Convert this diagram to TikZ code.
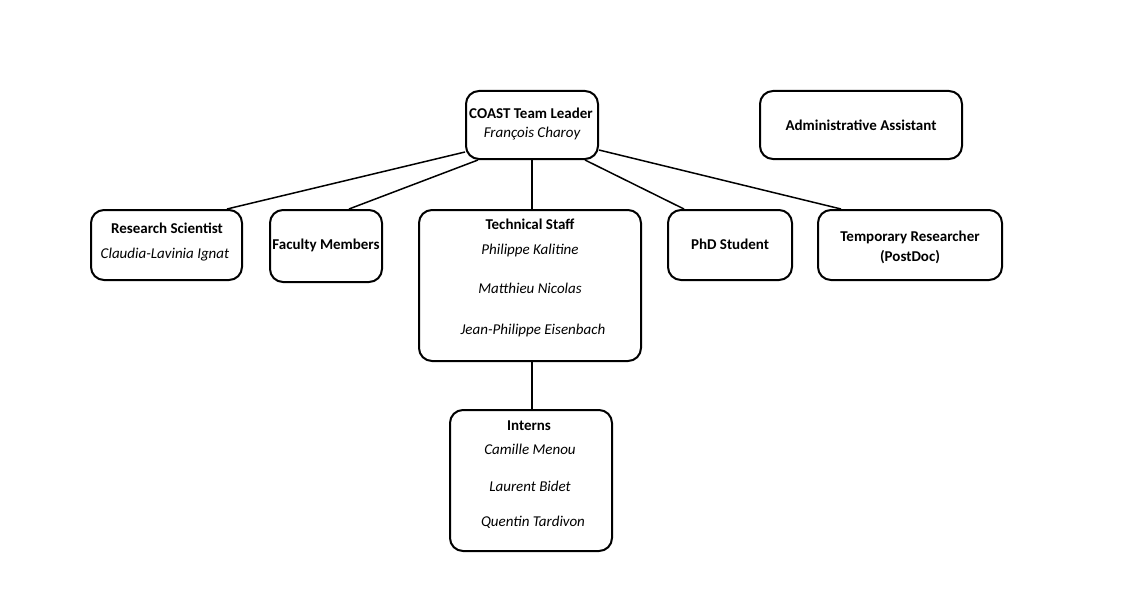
\documentclass[tikz,border=0pt]{standalone}
\usepackage{fontspec}
\setmainfont{Carlito}
\usetikzlibrary{calc}
\begin{document}
\begin{tikzpicture}[x=1pt,y=-1pt,
  box/.style={draw,line width=2pt,rounded corners=13pt,inner sep=0pt},
  ttl/.style={font=\fontsize{15}{18}\selectfont\bfseries,inner sep=0pt},
  nm/.style={font=\fontsize{15}{18}\selectfont\itshape,inner sep=0pt},
  conn/.style={line width=1.5pt}]
\useasboundingbox (0,0) rectangle (1133,594);
% boxes
\node[box,minimum width=132pt,minimum height=68pt] (leader) at (532,125) {};
\node[box,minimum width=202pt,minimum height=68pt] (admin) at (861,125) {};
\node[box,minimum width=151pt,minimum height=70pt] (rs) at (166.5,245) {};
\node[box,minimum width=112pt,minimum height=72pt] (fac) at (326,246) {};
\node[box,minimum width=222pt,minimum height=151pt] (tech) at (530,285.5) {};
\node[box,minimum width=124pt,minimum height=70pt] (phd) at (730,245) {};
\node[box,minimum width=184pt,minimum height=70pt] (temp) at (910,245) {};
\node[box,minimum width=162pt,minimum height=141pt] (int) at (531,480.5) {};
% texts
\node[ttl] (leaderT) at (531,113) {COAST Team Leader};
\node[nm] (leaderN) at (532,134) {François Charoy};
\node[ttl] (adminT) at (861,125) {Administrative Assistant};
\node[ttl] (rsT) at (167,228) {Research Scientist};
\node[nm] (rsN) at (165,255) {Claudia-Lavinia Ignat};
\node[ttl] (facT) at (326,245) {Faculty Members};
\node[ttl] (techT) at (530,224) {Technical Staff};
\node[nm] (techA) at (530,250) {Philippe Kalitine};
\node[nm] (techB) at (530,288) {Matthieu Nicolas};
\node[nm] (techC) at (533,330) {Jean-Philippe Eisenbach};
\node[ttl] (phdT) at (730,244) {PhD Student};
\node[ttl] (tempT) at (910,237) {Temporary Researcher};
\node[ttl] (tempT2) at (910,257) {(PostDoc)};
\node[ttl] (intT) at (529,426) {Interns};
\node[nm] (intA) at (530,449) {Camille Menou};
\node[nm] (intB) at (530,486) {Laurent Bidet};
\node[nm] (intC) at (533,522) {Quentin Tardivon};
% connectors
\draw[conn] ($(leader.south west)+(0,-8)$) -- ($(rs.north west)+(137,0)$);
\draw[conn] ($(leader.south west)+(13,0)$) -- ($(fac.north west)+(80,0)$);
\draw[conn] (leader.south) -- (leader.south |- tech.north);
\draw[conn] ($(leader.south east)+(-14,0)$) -- ($(phd.north west)+(17,0)$);
\draw[conn] ($(leader.south east)+(0,-10)$) -- ($(temp.north west)+(24,0)$);
\draw[conn] (tech.south -| leader.south) -- (int.north -| leader.south);
\end{tikzpicture}
\end{document}
